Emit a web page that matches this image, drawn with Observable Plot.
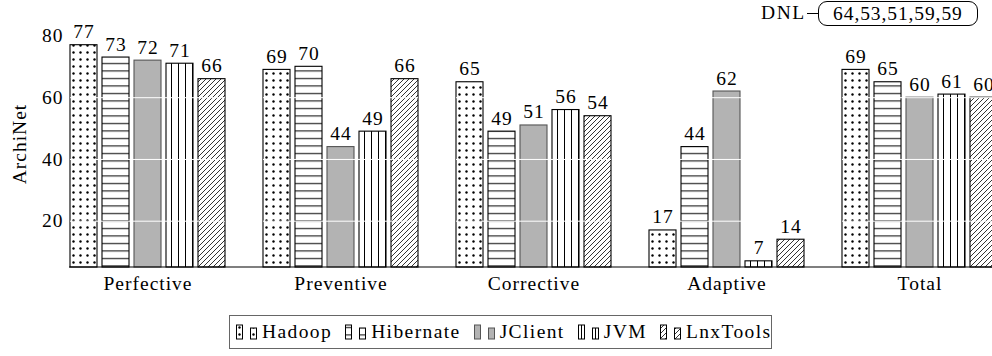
<!DOCTYPE html>
<html>
<head>
<meta charset="utf-8">
<script src="https://cdn.jsdelivr.net/npm/d3@7"></script>
<script src="https://cdn.jsdelivr.net/npm/@observablehq/plot@0.6"></script>
<style>
html, body { margin: 0; padding: 0; background: #fff; overflow: hidden; }
body { width: 992px; height: 356px; position: relative; font-family: "Liberation Serif", "Times New Roman", serif; color: #000; }
#chart { position: absolute; left: 0; top: 0; width: 992px; height: 300px; overflow: hidden; }
#chart svg { max-width: none !important; }
#dnl { position: absolute; left: 761px; top: 0; height: 26px; display: flex; align-items: center; font-size: 19.5px; letter-spacing: 1.6px; }
#dnl .dash { display: inline-block; width: 11px; border-top: 1px solid #000; margin: 0 0 0 1px; }
#dnl .box { display: inline-block; box-sizing: border-box; width: 160px; height: 25px; line-height: 23px; border: 1px solid #000; border-radius: 9px; text-align: center; letter-spacing: 0.9px; }
#legend { position: absolute; left: 229px; top: 315px; width: 543px; height: 34px; box-sizing: border-box; border: 1px solid #666; display: flex; align-items: center; padding-left: 6px; font-size: 19.5px; letter-spacing: 1.4px; }
#legend .item { display: flex; align-items: center; margin-right: 13px; }
#legend svg { display: block; margin-right: 5px; }
#defs { position: absolute; width: 0; height: 0; }
</style>
</head>
<body>
<svg id="defs" width="0" height="0">
  <defs>
    <pattern id="p-dots" patternUnits="userSpaceOnUse" width="7" height="7">
      <rect width="7" height="7" fill="#fff"/>
      <circle cx="3.5" cy="3.5" r="1.2" fill="#000"/>
    </pattern>
    <pattern id="p-hlines" patternUnits="userSpaceOnUse" width="8" height="7.5">
      <rect width="8" height="7.5" fill="#fff"/>
      <rect x="0" y="3" width="8" height="1" fill="#000"/>
    </pattern>
    <pattern id="p-gray" patternUnits="userSpaceOnUse" width="4" height="4">
      <rect width="4" height="4" fill="#b3b3b3"/>
    </pattern>
    <pattern id="p-vlines" patternUnits="userSpaceOnUse" width="7" height="8">
      <rect width="7" height="8" fill="#fff"/>
      <rect x="3" y="0" width="1" height="8" fill="#000"/>
    </pattern>
    <pattern id="p-ne" patternUnits="userSpaceOnUse" width="5" height="5">
      <rect width="5" height="5" fill="#fff"/>
      <path d="M-1,1 L1,-1 M0,5 L5,0 M4,6 L6,4" stroke="#000" stroke-width="0.8"/>
    </pattern>
  </defs>
</svg>
<div id="chart"></div>
<div id="dnl"></div>
<div id="legend"></div>
<script>
// ---- data ----
const categories = ["Perfective", "Preventive", "Corrective", "Adaptive", "Total"];
const series = ["Hadoop", "Hibernate", "JClient", "JVM", "LnxTools"];
const hadoop    = [77, 69, 65, 17, 69];
const hibernate = [73, 70, 49, 44, 65];
const jclient   = [72, 44, 51, 62, 60];
const jvm       = [71, 49, 56,  7, 61];
const lnxtools  = [66, 66, 54, 14, 60];
const yTicks = [20, 40, 60, 80];
const yDomain = [5, 85];
const dnlLabel = "DNL";
const dnlValues = [64, 53, 51, 59, 59];
const yLabel = "ArchiNet";

// ---- styles per series ----
const fills = ["url(#p-dots)", "url(#p-hlines)", "url(#p-gray)", "url(#p-vlines)", "url(#p-ne)"];
const strokes = ["#000", "#000", "#555", "#000", "#000"];

const valuesBySeries = [hadoop, hibernate, jclient, jvm, lnxtools];
const rows = [];
categories.forEach((c, i) => {
  series.forEach((s, j) => rows.push({category: c, series: s, value: valuesBySeries[j][i]}));
});

const plotWidth = 997;
const marginLeft = 70;
const fxPadInner = 38 / 193;
const xPadInner = 5 / 32;

const barMarks = series.map((s, j) =>
  Plot.barY(rows.filter(d => d.series === s), {
    fx: "category", x: "series", y1: yDomain[0], y2: "value",
    fill: "series", stroke: strokes[j], strokeWidth: 1.1
  })
);

const plot = Plot.plot({
  width: plotWidth,
  height: 300,
  marginLeft,
  marginRight: 0,
  marginTop: 20,
  marginBottom: 33,
  style: {fontFamily: "'Liberation Serif', 'Times New Roman', serif", fontSize: "19.5px", background: "transparent", color: "#000", letterSpacing: "1px", maxWidth: "none"},
  fx: {domain: categories, paddingInner: fxPadInner, paddingOuter: 0, label: null, tickSize: 0, tickPadding: 9},
  x: {domain: series, paddingInner: xPadInner, paddingOuter: 0, axis: null},
  y: {domain: yDomain, ticks: yTicks, tickFormat: d => String(d), label: yLabel, labelAnchor: "center", labelArrow: "none", labelOffset: 58, tickSize: 0, tickPadding: 7},
  color: {type: "ordinal", domain: series, range: fills},
  marks: [
    ...barMarks,
    Plot.gridY(yTicks, {stroke: "#fff", strokeOpacity: 1, strokeWidth: 1}),
    Plot.text(rows, {fx: "category", x: "series", y: "value", text: d => String(d.value), dy: -7, lineAnchor: "bottom", fill: "#000"})
  ]
});

// baseline axis line, positioned with the plot's own scales
const yScale = plot.scale("y");
const fxScale = plot.scale("fx");
const y0 = yScale.apply(yDomain[0]);
d3.select(plot).append("line")
  .attr("x1", fxScale.range[0] - 1).attr("x2", plotWidth)
  .attr("y1", y0).attr("y2", y0)
  .attr("stroke", "#000").attr("stroke-width", 1.2);

document.getElementById("chart").appendChild(plot);

// DNL annotation
const dnl = document.getElementById("dnl");
dnl.innerHTML = `<span>${dnlLabel}</span><span class="dash"></span><span class="box">${dnlValues.join(",")}</span>`;

// legend
const legend = document.getElementById("legend");
series.forEach((s, j) => {
  const item = document.createElement("div");
  item.className = "item";
  item.innerHTML = `<svg width="21" height="16"><rect x="0.5" y="1" width="6" height="14" fill="${fills[j]}" stroke="${strokes[j]}" stroke-width="1"/><rect x="14.5" y="4" width="6" height="11" fill="${fills[j]}" stroke="${strokes[j]}" stroke-width="1"/></svg><span>${s}</span>`;
  legend.appendChild(item);
});
</script>
</body>
</html>
